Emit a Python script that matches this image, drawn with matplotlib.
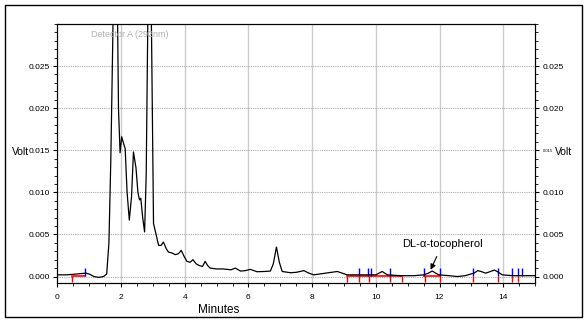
import numpy as np
import matplotlib
matplotlib.use("Agg")
import matplotlib.pyplot as plt
from matplotlib.ticker import MultipleLocator
from matplotlib.patches import Rectangle

plt.rcParams.update({
    "font.family": ["Liberation Sans", "DejaVu Sans"],
    "font.size": 6,
})

# chromatogram trace (minutes, volt)
minutes = [0, 0.3, 0.6, 0.9, 1.0, 1.15, 1.3, 1.45, 1.55, 1.62, 1.68, 1.74, 1.8, 1.86,
           1.92, 1.97, 2.02, 2.08, 2.13, 2.19, 2.26, 2.33, 2.39, 2.47, 2.53, 2.58, 2.62,
           2.68, 2.74, 2.79, 2.84, 2.90, 2.96, 3.02, 3.10, 3.18, 3.26, 3.33, 3.42, 3.49,
           3.6, 3.70, 3.80, 3.89, 3.98, 4.07, 4.17, 4.26, 4.36, 4.46, 4.56, 4.64, 4.72,
           4.8, 5.0, 5.2, 5.33, 5.45, 5.59, 5.75, 5.9, 6.06, 6.27, 6.5, 6.69, 6.78, 6.88,
           6.97, 7.06, 7.32, 7.5, 7.74, 7.9, 8.05, 8.42, 8.79, 9.1, 9.5, 9.8, 10.0, 10.2,
           10.36, 10.8, 11.2, 11.5, 11.65, 11.77, 11.88, 11.98, 12.3, 12.56, 12.8, 13.08,
           13.2, 13.3, 13.45, 13.6, 13.73, 13.85, 13.97, 14.3, 14.6, 15.0]
volt = [0.0002, 0.0002, 0.0003, 0.0004, 0.0003, 0.0, -0.0001, 0.0, 0.0003, 0.004,
        0.014, 0.028, 0.045, 0.042, 0.0200, 0.0147, 0.0166, 0.0158, 0.0152, 0.0100, 0.0067,
        0.0095, 0.0148, 0.0129, 0.0100, 0.0091, 0.0093, 0.0070, 0.0053, 0.0120, 0.030, 0.045,
        0.028, 0.0063, 0.0050, 0.0037, 0.0037, 0.0041, 0.0033, 0.0029, 0.0028, 0.0026, 0.0027,
        0.0031, 0.0024, 0.0018, 0.0017, 0.0020, 0.0015, 0.0013, 0.0012, 0.0018, 0.0013, 0.0010,
        0.0009, 0.0009, 0.00085, 0.0008, 0.0010, 0.00065, 0.0007, 0.00085, 0.00057, 0.0006,
        0.00065, 0.0015, 0.0035, 0.0017, 0.0006, 0.00045, 0.0005, 0.0007, 0.0004, 0.0002,
        0.0004, 0.0006, 0.0002, 0.0002, 0.0002, 0.0002, 0.0006, 0.0002, 0.0001, 0.0001, 0.0002,
        0.0004, 0.00065, 0.0004, 0.0002, 0.0001, 0.0, 0.0001, 0.0004, 0.0007, 0.0006, 0.0004,
        0.0006, 0.00077, 0.0005, 0.0002, 0.0001, 0.0001, 0.0001]

# integration events
red_base = [(0.45, 0.87), (9.1, 10.83), (11.5, 12.0)]
red_marks = [0.45, 9.1, 9.47, 9.78, 10.46, 10.83, 11.55, 12.0, 13.06, 13.84, 14.28, 14.45]
blue_marks = [0.87, 9.47, 9.76, 9.84, 10.44, 11.51, 12.0, 13.06, 13.84, 14.26, 14.45, 14.6]

yticks = [0.000, 0.005, 0.010, 0.015, 0.020, 0.025]

fig = plt.figure(figsize=(5.88, 3.24), dpi=100)
fig.patches.append(Rectangle((5/588, 7/324), 577/588, 312/324, transform=fig.transFigure,
                             fill=False, edgecolor='black', linewidth=1))
ax = fig.add_axes([0.0975, 0.1265, 0.8125, 0.7995])

ax.set_xlim(0, 15)
ax.set_ylim(-0.00077, 0.030)

for x in range(2, 15, 2):
    ax.axvline(x, color='#cccccc', linewidth=1, zorder=0)
for y in yticks:
    ax.axhline(y, color='#aaaaaa', linewidth=0.8, linestyle=(0, (1, 1)), zorder=0)

for a, b in red_base:
    ax.plot([a, b], [0.0001, 0.0001], color='red', linewidth=1.2, zorder=2)
ax.vlines(red_marks, -0.0006, 0.0001, color='red', linewidth=1, zorder=2)
ax.vlines(blue_marks, 0.0001, 0.00105, color='blue', linewidth=1, zorder=2)

ax.plot(minutes, volt, color='black', linewidth=0.9, zorder=3)

ax.set_xticks([0, 2, 4, 6, 8, 10, 12, 14])
ax.xaxis.set_minor_locator(MultipleLocator(0.5))
ax.set_yticks(yticks)
ax.set_yticklabels(["%.3f" % v for v in yticks])
ax.yaxis.set_minor_locator(MultipleLocator(0.001))
ax.tick_params(which='major', length=3, width=0.8, pad=2.5)
ax.tick_params(axis='x', which='major', pad=5)
ax.tick_params(which='minor', length=2, width=0.6)

ax2 = ax.twinx()
ax2.set_ylim(ax.get_ylim())
ax2.set_yticks(yticks)
ax2.set_yticklabels(["%.3f" % v for v in yticks])
ax2.yaxis.set_minor_locator(MultipleLocator(0.001))
ax2.tick_params(which='major', length=3, width=0.8, pad=2.5)
ax2.tick_params(which='minor', length=2, width=0.6)
for lab in ax2.get_yticklabels():
    if lab.get_text() == "0.015":
        lab.set_fontsize(3)

fig.text(0.020, 0.531, "Volt", fontsize=7.5, va='center', ha='left')
fig.text(0.944, 0.531, "Volt", fontsize=7.5, va='center', ha='left')
fig.text(0.337, 0.043, "Minutes", fontsize=8.5, va='center', ha='left')
ax.text(1.05, 0.0287, "Detector A (292nm)", color='#b0b0b0', fontsize=6.5, va='center')

ax.annotate("DL-\u03b1-tocopherol", xy=(11.72, 0.0008), xytext=(12.1, 0.0039),
            ha='center', va='center', fontsize=8,
            arrowprops=dict(arrowstyle='-|>', color='black', lw=0.8, mutation_scale=8,
                            shrinkA=4, shrinkB=0))

fig.savefig("out.png", dpi=100)
